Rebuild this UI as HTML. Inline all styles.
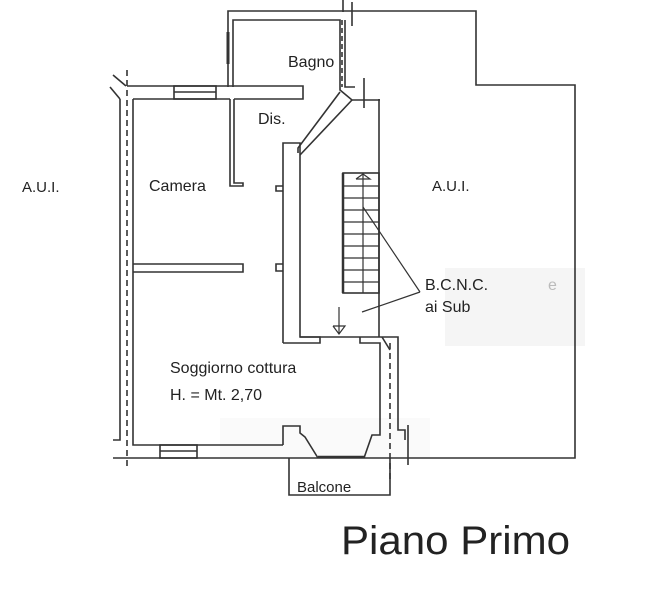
<!DOCTYPE html>
<html><head><meta charset="utf-8"><style>html,body{margin:0;padding:0;background:#fff}svg{display:block}</style></head>
<body>
<svg width="652" height="600" viewBox="0 0 652 600" xmlns="http://www.w3.org/2000/svg" font-family="Liberation Sans, sans-serif" fill="none" stroke="#333" stroke-width="1.6">
<rect x="445" y="268" width="140" height="78" fill="#f5f5f5" stroke="none"/>
<rect x="220" y="418" width="210" height="40" fill="#fafafa" stroke="none"/>
<polyline points="345,11 476,11 476,85 575,85 575,458 113,458"/>
<polyline points="228,87 228,11 345,11"/>
<polyline points="233,87 233,20 340,20 340,90 352,100 380,100"/>
<polyline points="345,20 345,87 355,87"/>
<line x1="228" y1="32" x2="228" y2="64" stroke-width="3"/>
<line x1="342" y1="20" x2="342" y2="87" stroke-dasharray="5,3"/>
<line x1="352" y1="2" x2="352" y2="26"/><line x1="343" y1="0" x2="343" y2="12"/>
<line x1="364" y1="78" x2="364" y2="108"/>
<polyline points="340,92 298,148 298,153"/>
<polyline points="352,100 300,155"/>
<polyline points="127,86 303,86 303,99 234,99"/>
<line x1="133" y1="99" x2="230" y2="99"/>
<rect x="174" y="86" width="42" height="13"/>
<line x1="174" y1="92" x2="216" y2="92"/>
<polyline points="133,99 133,445 283,445"/>
<line x1="127" y1="70" x2="127" y2="470" stroke-dasharray="6,4"/>
<polyline points="120,99 120,440 113,440"/>
<line x1="113" y1="75" x2="126" y2="86"/><line x1="110" y1="87" x2="120" y2="99"/>
<polyline points="230,99 230,186 243,186 243,183 234,183 234,99"/>
<polyline points="133,264 243,264 243,272 133,272"/>
<polyline points="283,186 276,186 276,191 283,191"/>
<polyline points="283,264 276,264 276,271 283,271"/>
<polyline points="283,343 283,143 300,143 300,337 320,337 320,343 283,343"/>
<line x1="300" y1="337" x2="380" y2="337"/>
<line x1="379" y1="99" x2="379" y2="337"/>
<rect x="343" y="173" width="36" height="120"/>
<line x1="343" y1="173" x2="343" y2="293" stroke-width="2.5"/>
<g stroke-width="1.2">
<line x1="343" y1="186" x2="379" y2="186"/><line x1="343" y1="198" x2="379" y2="198"/><line x1="343" y1="210" x2="379" y2="210"/><line x1="343" y1="222" x2="379" y2="222"/><line x1="343" y1="234" x2="379" y2="234"/><line x1="343" y1="246" x2="379" y2="246"/><line x1="343" y1="258" x2="379" y2="258"/><line x1="343" y1="270" x2="379" y2="270"/><line x1="343" y1="282" x2="379" y2="282"/>
<line x1="363" y1="173" x2="363" y2="293"/>
<polyline points="356,179 363,174 370,179 356,179"/>
</g>
<line x1="363" y1="207" x2="420" y2="292" stroke-width="1.2"/>
<line x1="420" y1="292" x2="362" y2="312" stroke-width="1.2"/>
<line x1="339" y1="307" x2="339" y2="334" stroke-width="1.2"/>
<polyline points="333,326 339,334 345,326 333,326" stroke-width="1.2"/>
<polyline points="360,337 360,343 380,343 380,435 372,435 364,458"/>
<polyline points="380,337 398,337 398,430 405,430 405,440"/>
<line x1="390" y1="343" x2="390" y2="480" stroke-dasharray="6,4"/>
<line x1="408" y1="425" x2="408" y2="465"/>
<line x1="382" y1="337" x2="390" y2="350"/>
<rect x="160" y="445" width="37" height="13"/>
<line x1="160" y1="451" x2="197" y2="451"/>
<polyline points="283,445 283,426 300,426 300,433 305,437 318,458"/>
<line x1="318" y1="457" x2="364" y2="457" stroke-width="2.5"/>
<polyline points="289,458 289,495 390,495 390,458"/>
<g fill="#222" stroke="none" font-size="16">
<text x="22" y="192" font-size="15">A.U.I.</text>
<text x="149" y="191">Camera</text>
<text x="288" y="67">Bagno</text>
<text x="258" y="124">Dis.</text>
<text x="432" y="191" font-size="15">A.U.I.</text>
<text x="425" y="290">B.C.N.C.</text>
<text x="548" y="290" fill="#bbb">e</text>
<text x="425" y="312">ai Sub</text>
<text x="170" y="373">Soggiorno cottura</text>
<text x="170" y="400">H. = Mt. 2,70</text>
<text x="297" y="492" font-size="15">Balcone</text>
<text x="341" y="554" font-size="40" textLength="229" lengthAdjust="spacingAndGlyphs">Piano Primo</text>
</g>
</svg>
</body></html>
